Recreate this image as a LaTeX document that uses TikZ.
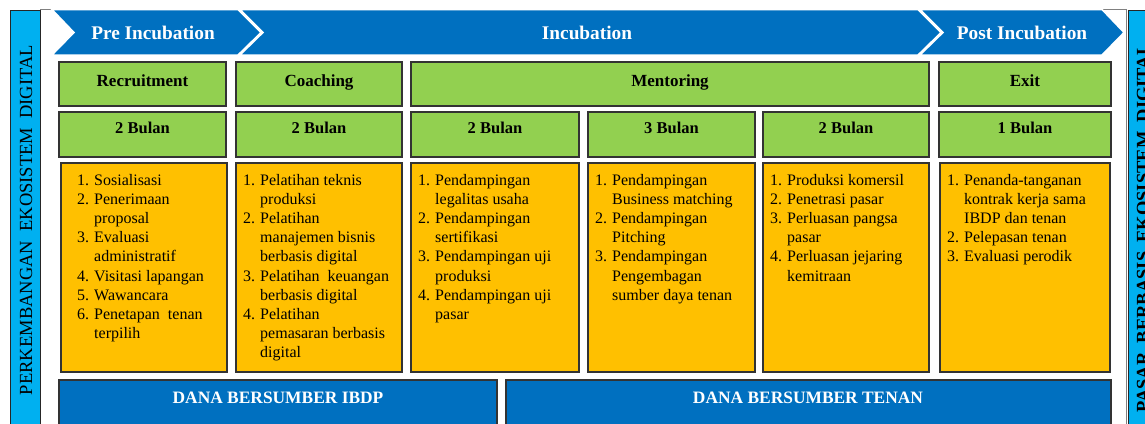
\documentclass[tikz,border=0pt]{standalone}
\usepackage{fontspec}
\setmainfont{Liberation Serif}
\usepackage{array}
\definecolor{hblue}{HTML}{0070C0}
\definecolor{hgreen}{HTML}{92D050}
\definecolor{hyellow}{HTML}{FFC000}
\definecolor{hcyan}{HTML}{00B0F0}
\newcommand{\lst}[1]{\begin{tabular}[t]{@{}p{17pt}@{}l@{}}#1\end{tabular}}
\tikzset{
  chev/.style={fill=hblue, draw=white, line width=1.5pt},
  hdr/.style={text=white, font=\fontsize{19.3}{21}\selectfont\bfseries, anchor=base, inner sep=0},
  gbox/.style={fill=hgreen, draw=black!80, line width=1.2pt},
  ybox/.style={fill=hyellow, draw=black!80, line width=1.2pt},
  bbox/.style={fill=hblue, draw=black!80, line width=1.2pt},
  gtxt/.style={font=\fontsize{17}{19}\selectfont\bfseries, anchor=base, inner sep=0},
  btxt/.style={font=\fontsize{16.5}{19}\selectfont\bfseries, anchor=base, inner sep=0},
  ltxt/.style={font=\fontsize{16}{19.2}\selectfont, anchor=base west, inner sep=0, align=left},
  wtxt/.style={text=white, font=\fontsize{17.4}{19}\selectfont\bfseries, anchor=base, inner sep=0},
  side/.style={fill=hcyan, draw=black!85, line width=1pt},
  vtxt/.style={rotate=90, anchor=base, inner sep=0, font=\fontsize{18.5}{20}\selectfont}
}
\begin{document}
\begin{tikzpicture}[x=1pt,y=-1pt]
\useasboundingbox (0,0) rectangle (1145,423);
\clip (0,0) rectangle (1145,423);
% frame
\draw[black!50, line width=0.8pt] (40,9.5) rectangle (1126,440);
% side bars
\draw[side] (10,10) rectangle (40,440);
\draw[side] (1128,10) rectangle (1160,440);
\node[vtxt] (ltitle) at (32,220) {PERKEMBANGAN\ \ EKOSISTEM\ \ DIGITAL};
\node[vtxt, font=\fontsize{18.5}{20}\selectfont\bfseries] (rtitle) at (1149,228) {PASAR\ \ BERBASIS\ \ EKOSISTEM\ \ DIGITAL};
% chevrons
\draw[chev] (52,9.5) -- (238,9.5) -- (261,32.5) -- (238,55) -- (52,55) -- (74,32.5) -- cycle;
\draw[chev] (240,9.5) -- (918,9.5) -- (941,32.5) -- (918,55) -- (240,55) -- (263,32.5) -- cycle;
\draw[chev] (920,9.5) -- (1102,9.5) -- (1124,32.5) -- (1102,55) -- (920,55) -- (943,32.5) -- cycle;
\node[hdr] (pre) at (153,39) {Pre Incubation};
\node[hdr] (inc) at (587,39) {Incubation};
\node[hdr] (post) at (1022,39) {Post Incubation};
% row 1
\draw[gbox] (59,62) rectangle (226,106);
\draw[gbox] (236,62) rectangle (402,106);
\draw[gbox] (411,62) rectangle (929,106);
\draw[gbox] (939,62) rectangle (1111,106);
\node[gtxt] (t1) at (142.5,86) {Recruitment};
\node[gtxt] (t2) at (319,86) {Coaching};
\node[gtxt] (t3) at (670,86) {Mentoring};
\node[gtxt] (t4) at (1025,86) {Exit};
% row 2
\draw[gbox] (59,112) rectangle (226,157);
\draw[gbox] (236,112) rectangle (402,157);
\draw[gbox] (411,112) rectangle (579,157);
\draw[gbox] (588,112) rectangle (755,157);
\draw[gbox] (763,112) rectangle (929,157);
\draw[gbox] (939,112) rectangle (1111,157);
\node[btxt] (b1) at (142.5,133.5) {2 Bulan};
\node[btxt] (b2) at (319,133.5) {2 Bulan};
\node[btxt] (b3) at (495,133.5) {2 Bulan};
\node[btxt] (b4) at (671.5,133.5) {3 Bulan};
\node[btxt] (b5) at (846,133.5) {2 Bulan};
\node[btxt] (b6) at (1025,133.5) {1 Bulan};
% row 3
\draw[ybox] (61,163) rectangle (227,372);
\draw[ybox] (236,163) rectangle (402,372);
\draw[ybox] (411,163) rectangle (579,372);
\draw[ybox] (588,163) rectangle (755,372);
\draw[ybox] (763,163) rectangle (929,372);
\draw[ybox] (940,163) rectangle (1110,372);
\node[ltxt] (l1) at (77,185) {\lst{1. & Sosialisasi\\ 2. & Penerimaan\\ & proposal\\ 3. & Evaluasi\\ & administratif\\ 4. & Visitasi lapangan\\ 5. & Wawancara\\ 6. & Penetapan\ \ tenan\\ & terpilih}};
\node[ltxt] (l2) at (243,185) {\lst{1. & Pelatihan teknis\\ & produksi\\ 2. & Pelatihan\\ & manajemen bisnis\\ & berbasis digital\\ 3. & Pelatihan\ \ keuangan\\ & berbasis digital\\ 4. & Pelatihan\\ & pemasaran berbasis\\ & digital}};
\node[ltxt] (l3) at (418,185) {\lst{1. & Pendampingan\\ & legalitas usaha\\ 2. & Pendampingan\\ & sertifikasi\\ 3. & Pendampingan uji\\ & produksi\\ 4. & Pendampingan uji\\ & pasar}};
\node[ltxt] (l4) at (595,185) {\lst{1. & Pendampingan\\ & Business matching\\ 2. & Pendampingan\\ & Pitching\\ 3. & Pendampingan\\ & Pengembagan\\ & sumber daya tenan}};
\node[ltxt] (l5) at (770,185) {\lst{1. & Produksi komersil\\ 2. & Penetrasi pasar\\ 3. & Perluasan pangsa\\ & pasar\\ 4. & Perluasan jejaring\\ & kemitraan}};
\node[ltxt] (l6) at (947,185) {\lst{1. & Penanda-tanganan\\ & kontrak kerja sama\\ & IBDP dan tenan\\ 2. & Pelepasan tenan\\ 3. & Evaluasi perodik}};
% bottom
\draw[bbox] (59,380) rectangle (497,440);
\draw[bbox] (506,380) rectangle (1111,440);
\node[wtxt] (d1) at (278,403) {DANA BERSUMBER IBDP};
\node[wtxt] (d2) at (808,403) {DANA BERSUMBER TENAN};
\end{tikzpicture}
\end{document}
